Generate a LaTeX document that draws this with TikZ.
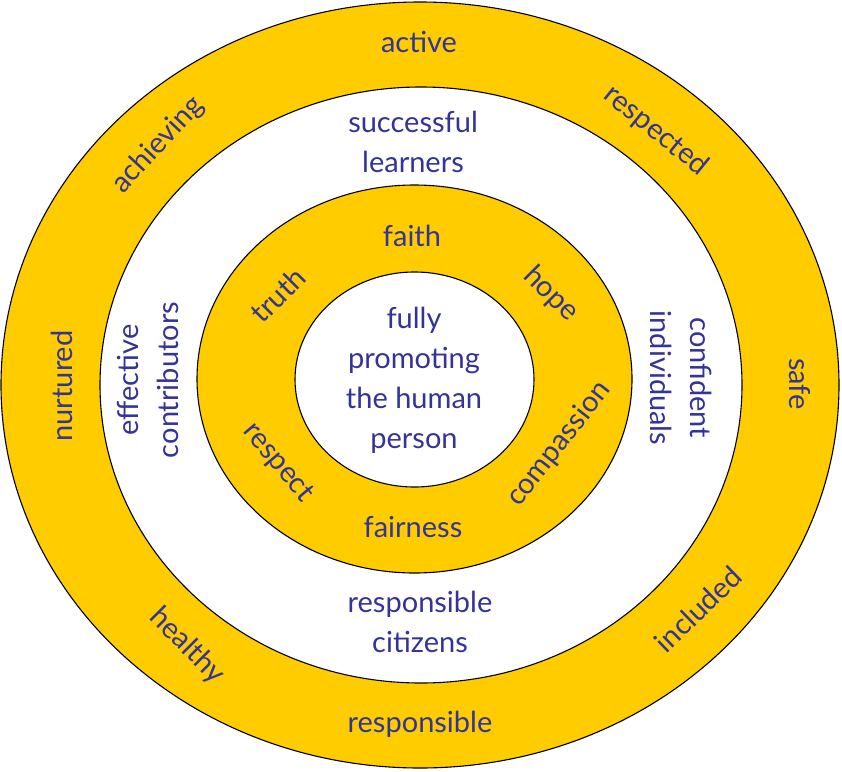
\documentclass[tikz,border=0pt]{standalone}
\usepackage{fontspec}
\setmainfont{Lato}

\begin{document}
\begin{tikzpicture}[x=1pt,y=-1pt,
	ringtext/.style={text=textblue, font=\fontsize{29}{40}\selectfont, align=center, inner sep=0pt},
	ringline/.style={draw=black, line width=1.1pt}]
	\definecolor{ringgold}{RGB}{255,204,0}
	\definecolor{textblue}{RGB}{51,51,153}

	\useasboundingbox (0,0) rectangle (842,771);

	% rings, outside in
	\filldraw[ringline, fill=ringgold] (420,385) ellipse [x radius=419, y radius=383];
	\filldraw[ringline, fill=white] (421,385) ellipse [x radius=321, y radius=298];
	\filldraw[ringline, fill=ringgold] (414.5,379) ellipse [x radius=217.5, y radius=194];
	\filldraw[ringline, fill=white] (414.5,379.5) ellipse [x radius=119.5, y radius=107.5];

	% outer ring
	\node[ringtext] (active) at (419,42) {active};
	\node[ringtext, rotate=-39] (respected) at (656,131) {respected};
	\node[ringtext, rotate=-90] (safe) at (800,384) {safe};
	\node[ringtext, rotate=44] (included) at (698,609) {included};
	\node[ringtext] (responsible) at (420,724) {responsible};
	\node[ringtext, rotate=-45] (healthy) at (187,646) {healthy};
	\node[ringtext, rotate=90] (nurtured) at (62,386) {nurtured};
	\node[ringtext, rotate=47] (achieving) at (158,145) {achieving};

	% second ring
	\node[ringtext] (learners) at (413,142) {successful\\learners};
	\node[ringtext, rotate=-90] (individuals) at (681,378) {confident\\individuals};
	\node[ringtext] (citizens) at (420,622) {responsible\\citizens};
	\node[ringtext, rotate=90] (contributors) at (148,380) {effective\\contributors};

	% third ring
	\node[ringtext] (faith) at (412,236) {faith};
	\node[ringtext, rotate=-45] (hope) at (551,294) {hope};
	\node[ringtext, rotate=52] (compassion) at (559,444) {compassion};
	\node[ringtext] (fairness) at (413,527) {fairness};
	\node[ringtext, rotate=-50] (respect) at (278,463) {respect};
	\node[ringtext, rotate=45] (truth) at (278,295) {truth};

	% centre
	\node[ringtext] (person) at (414,380) {fully\\promoting\\the human\\person};
\end{tikzpicture}
\end{document}
